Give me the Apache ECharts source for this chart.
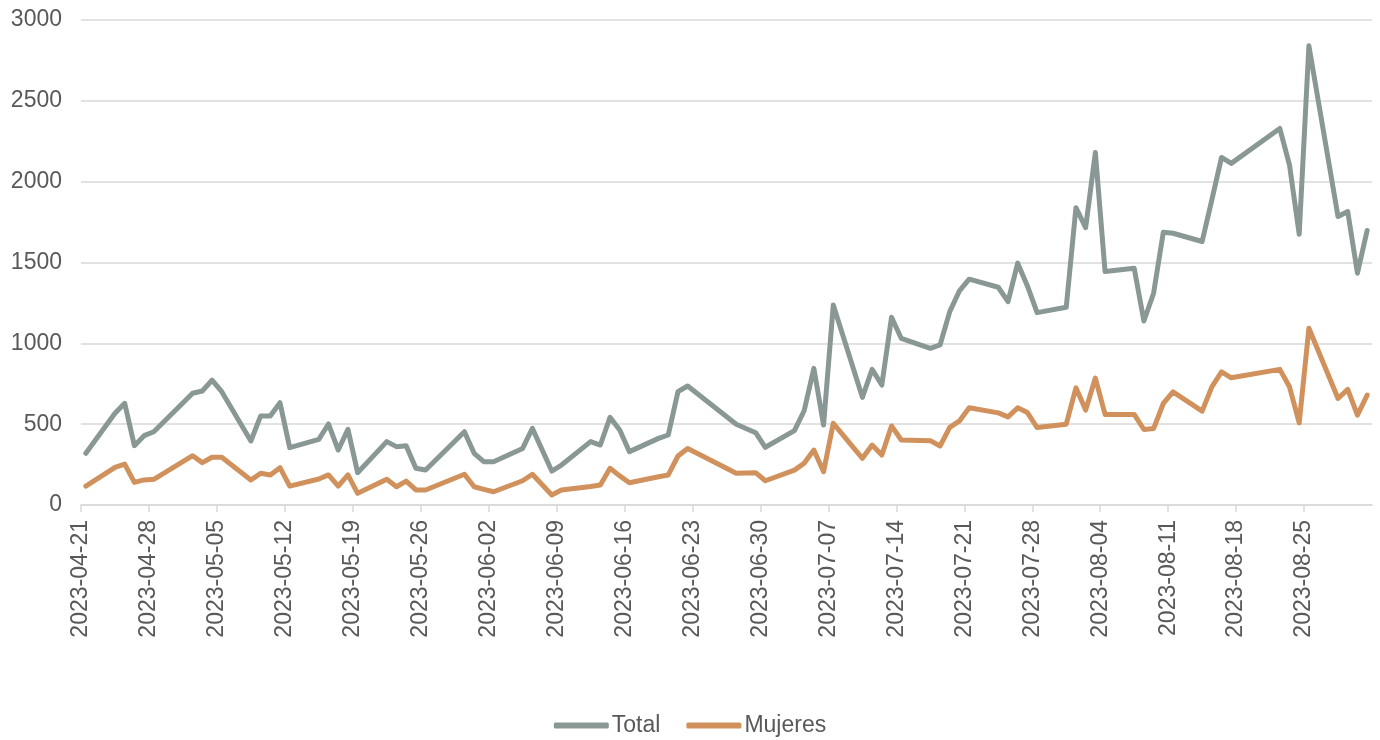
<!DOCTYPE html>
<html>
<head>
<meta charset="utf-8">
<script src="https://cdn.jsdelivr.net/npm/echarts@6/dist/echarts.min.js"></script>
<style>html,body{margin:0;padding:0;background:#fff}#c{width:1380px;height:740px}</style>
</head>
<body>
<div id="c"></div>
<script>
const startDate = '2023-04-21';
const endDate = '2023-09-01';
const dates = ['2023-04-21','2023-04-24','2023-04-25','2023-04-26','2023-04-27','2023-04-28',
'2023-05-02','2023-05-03','2023-05-04','2023-05-05','2023-05-08','2023-05-09','2023-05-10','2023-05-11','2023-05-12',
'2023-05-15','2023-05-16','2023-05-17','2023-05-18','2023-05-19','2023-05-22','2023-05-23','2023-05-24','2023-05-25','2023-05-26',
'2023-05-30','2023-05-31','2023-06-01','2023-06-02','2023-06-05','2023-06-06','2023-06-08','2023-06-09',
'2023-06-12','2023-06-13','2023-06-14','2023-06-15','2023-06-16','2023-06-19','2023-06-20','2023-06-21','2023-06-22',
'2023-06-27','2023-06-29','2023-06-30','2023-07-03','2023-07-04','2023-07-05','2023-07-06','2023-07-07',
'2023-07-10','2023-07-11','2023-07-12','2023-07-13','2023-07-14','2023-07-17','2023-07-18','2023-07-19','2023-07-20','2023-07-21',
'2023-07-24','2023-07-25','2023-07-26','2023-07-27','2023-07-28','2023-07-31','2023-08-01','2023-08-02','2023-08-03','2023-08-04',
'2023-08-07','2023-08-08','2023-08-09','2023-08-10','2023-08-11','2023-08-14','2023-08-15','2023-08-16','2023-08-17',
'2023-08-22','2023-08-23','2023-08-24','2023-08-25','2023-08-28','2023-08-29','2023-08-30','2023-08-31'];
const total = [320,567,629,367,429,453,
691,705,773,701,396,550,550,633,355,
406,501,340,468,200,392,361,367,227,216,
453,320,268,268,350,474,210,247,
392,371,542,464,330,412,433,701,736,
499,447,357,460,583,845,495,1237,
666,839,742,1161,1031,969,990,1196,1325,1397,
1347,1258,1496,1355,1190,1223,1839,1716,2180,1444,
1465,1138,1310,1687,1681,1630,1887,2150,2113,
2329,2103,1675,2840,1784,1815,1434,1698];
const mujeres = [117,233,253,140,155,159,
305,262,295,295,155,196,186,231,117,
161,186,117,186,72,159,113,148,93,93,
190,113,97,82,150,190,62,93,
115,124,227,180,138,175,186,303,350,
196,200,150,216,258,340,206,505,
289,371,309,489,402,398,365,480,520,601,
570,545,601,572,479,500,725,587,785,560,
560,467,473,628,700,581,731,824,787,
839,731,508,1093,659,715,556,680];
const yTicks = [0,500,1000,1500,2000,2500,3000];

const DAY = 86400000;
const t0 = Date.parse(startDate + 'T00:00:00Z');
const span = (Date.parse(endDate + 'T00:00:00Z') - t0) / DAY;
const dayIdx = d => (Date.parse(d + 'T00:00:00Z') - t0) / DAY;
const idxToDate = i => new Date(t0 + i * DAY).toISOString().slice(0, 10);

const totalData = dates.map((d, i) => [dayIdx(d) + 0.5, total[i]]);
const mujeresData = dates.map((d, i) => [dayIdx(d) + 0.5, mujeres[i]]);

const font = 'Liberation Sans, Arial, Helvetica, sans-serif';
const chart = echarts.init(document.getElementById('c'), null, {renderer: 'canvas'});
chart.setOption({
  animation: false,
  textStyle: {fontFamily: font},
  grid: {left: 81, right: 8, top: 20, bottom: 235, containLabel: false},
  legend: {
    data: ['Total', 'Mujeres'],
    top: 709,
    left: 'center',
    icon: 'roundRect',
    itemWidth: 55,
    itemHeight: 6,
    itemGap: 26,
    textStyle: {fontSize: 23, color: '#595959', fontFamily: font, padding: [0, 0, 0, -2]}
  },
  xAxis: {
    type: 'value',
    min: 0,
    max: span,
    interval: 7,
    axisLine: {show: true, lineStyle: {color: '#d9d9d9', width: 1.5}},
    axisTick: {show: true, length: 7, lineStyle: {color: '#d9d9d9', width: 1.5}},
    splitLine: {show: false},
    axisLabel: {
      rotate: 90,
      margin: 15,
      fontSize: 23,
      color: '#595959',
      fontFamily: font,
      showMaxLabel: false,
      formatter: v => (v >= span ? '' : idxToDate(v))
    }
  },
  yAxis: {
    type: 'value',
    min: yTicks[0],
    max: yTicks[yTicks.length - 1],
    interval: yTicks[1] - yTicks[0],
    axisLine: {show: false},
    axisTick: {show: false},
    splitLine: {lineStyle: {color: '#d9d9d9', width: 1.5}},
    axisLabel: {fontSize: 23, color: '#595959', margin: 19, fontFamily: font, formatter: v => String(v)}
  },
  series: [
    {
      name: 'Total', type: 'line', data: totalData, showSymbol: false, symbol: 'none',
      lineStyle: {color: '#899895', width: 5, cap: 'round', join: 'round'},
      itemStyle: {color: '#899895'}, z: 3
    },
    {
      name: 'Mujeres', type: 'line', data: mujeresData, showSymbol: false, symbol: 'none',
      lineStyle: {color: '#d0915c', width: 5, cap: 'round', join: 'round'},
      itemStyle: {color: '#d0915c'}, z: 2
    }
  ]
});
</script>
</body>
</html>
